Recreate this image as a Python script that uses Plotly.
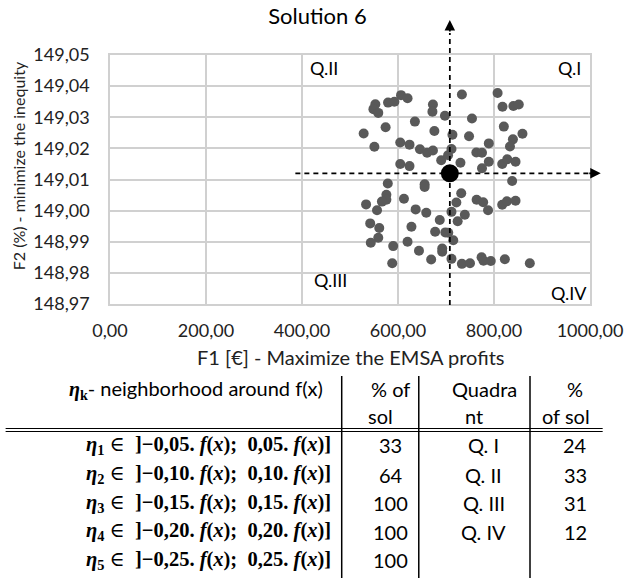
import plotly.graph_objects as go

# ---------------- data ----------------
f1 = [552.8, 548.8, 558.9, 579.3, 592.5, 606.3, 619.9, 672.8, 671.7, 697.8,
      635.2, 574.2, 528.5, 675.8, 550.8, 604.7, 624.0, 645.7, 660.6, 672.8,
      690.0, 604.7, 624.0, 713.4, 711.4, 704.3,
      733.1, 807.5, 817.7, 840.4, 851.6, 754.1, 820.5, 859.3, 748.0, 839.4,
      833.3, 789.2, 763.2, 775.0, 730.1, 789.2, 775.0, 817.1, 827.6, 844.9,
      578.7, 655.5, 655.5, 575.8, 575.8, 566.5, 533.5, 556.3, 612.4, 636.8,
      658.9, 687.0, 542.1, 561.0, 558.9, 628.0, 543.3, 590.0, 619.9, 677.4,
      698.6, 643.7, 692.1, 692.1, 669.1, 588.0,
      837.8, 731.7, 721.6, 763.8, 777.4, 787.6, 817.1, 827.0, 844.9, 711.4,
      739.2, 724.3, 704.7, 715.1, 711.4, 733.1, 750.0, 774.1, 778.1, 793.3,
      822.6, 874.6]
f2 = [149.0342, 149.0326, 149.0314, 149.0347, 149.0350, 149.0371, 149.0361, 149.0341, 149.0318, 149.0305,
      149.0286, 149.0268, 149.0248, 149.0256, 149.0205, 149.0219, 149.0212, 149.0197, 149.0186, 149.0193,
      149.0162, 149.0150, 149.0143, 149.0244, 149.0198, 149.0178,
      149.0373, 149.0378, 149.0334, 149.0336, 149.0341, 149.0296, 149.0270, 149.0247, 149.0239, 149.0229,
      149.0206, 149.0216, 149.0187, 149.0186, 149.0154, 149.0157, 149.0136, 149.0150, 149.0165, 149.0157,
      149.0087, 149.0085, 149.0076, 149.0051, 149.0035, 149.0029, 149.0020, 149.0001, 149.0038, 149.0004,
      148.9993, 148.9970, 148.9959, 148.9944, 148.9913, 148.9948, 148.9897, 148.9886, 148.9900, 148.9932,
      148.9930, 148.9871, 148.9878, 148.9868, 148.9843, 148.9831,
      149.0095, 149.0056, 149.0026, 149.0035, 149.0027, 149.0001, 149.0019, 149.0030, 149.0032, 148.9996,
      148.9987, 148.9966, 148.9929, 148.9905, 148.9845, 148.9829, 148.9831, 148.9850, 148.9839, 148.9838,
      148.9844, 148.9831]

center_f1 = 708.0
center_f2 = 149.012

x_ticks = [0, 200, 400, 600, 800, 1000]
x_ticktext = ["0,00", "200,00", "400,00", "600,00", "800,00", "1000,00"]
y_ticks = [148.97, 148.98, 148.99, 149.00, 149.01, 149.02, 149.03, 149.04, 149.05]
y_ticktext = ["148,97", "148,98", "148,99", "149,00", "149,01", "149,02", "149,03", "149,04", "149,05"]

quad_labels = ["Q.I", "Q.II", "Q.III", "Q.IV"]

eta_bounds = ["0,05", "0,10", "0,15", "0,20", "0,25"]
pct_of_sol = [33, 64, 100, 100, 100]
quadrants = ["Q. I", "Q. II", "Q. III", "Q. IV"]
quad_pct = [24, 33, 31, 12]

# ---------------- layout geometry ----------------
W, H = 635, 578
L, R, T, B = 110, 602, 55, 304


def px_x(px):
    return (px - L) / (R - L)


def px_y(py):
    return (B - py) / (B - T)


SANS = "Lato, 'Open Sans', sans-serif"
SERIF = "'Liberation Serif', 'DejaVu Serif', serif"
GRID = "#d0d0d0"

fig = go.Figure()
fig.add_trace(go.Scatter(x=f1, y=f2, mode="markers",
                         marker=dict(size=10, color="#595959"),
                         showlegend=False, hoverinfo="skip"))
fig.add_trace(go.Scatter(x=[center_f1], y=[center_f2], mode="markers",
                         marker=dict(size=18, color="#000000"),
                         showlegend=False, hoverinfo="skip"))

shapes = []
annotations = []

# dashed axes through the reference solution
shapes.append(dict(type="line", xref="x", yref="paper", x0=center_f1, x1=center_f1,
                   y0=px_y(305), y1=px_y(33), line=dict(color="black", width=1.75, dash="5px,4px")))
shapes.append(dict(type="line", xref="paper", yref="y", x0=px_x(300), x1=px_x(601),
                   y0=center_f2, y1=center_f2, line=dict(color="black", width=1.75, dash="5px,4px")))
annotations.append(dict(xref="x", yref="paper", x=center_f1, y=px_y(20), ax=0, ay=13,
                        showarrow=True, arrowhead=2, arrowsize=1.2, arrowwidth=1.75,
                        arrowcolor="black", text="", standoff=0))
annotations.append(dict(xref="paper", yref="y", x=px_x(613), y=center_f2, ax=-13, ay=0,
                        showarrow=True, arrowhead=2, arrowsize=1.2, arrowwidth=1.75,
                        arrowcolor="black", text="", standoff=0))

# quadrant labels
qfont = dict(family=SANS, size=18, color="black")
annotations += [
    dict(xref="x", yref="y", x=985, y=149.0458, text=quad_labels[0], showarrow=False,
         xanchor="right", yanchor="middle", font=qfont),
    dict(xref="x", yref="y", x=412, y=149.0458, text=quad_labels[1], showarrow=False,
         xanchor="left", yanchor="middle", font=qfont),
    dict(xref="x", yref="y", x=420, y=148.9777, text=quad_labels[2], showarrow=False,
         xanchor="left", yanchor="middle", font=qfont),
    dict(xref="x", yref="y", x=997, y=148.9735, text=quad_labels[3], showarrow=False,
         xanchor="right", yanchor="middle", font=qfont),
]

# axis titles
annotations.append(dict(xref="paper", yref="paper", x=px_x(16), y=px_y(166),
                        text="F2 (%) - minimize the inequity", textangle=-90, showarrow=False,
                        xanchor="center", yanchor="middle",
                        font=dict(family=SANS, size=16, color="#222")))
annotations.append(dict(xref="paper", yref="paper", x=px_x(356), y=px_y(357),
                        text="F1 [€] - Maximize the EMSA profits", showarrow=False,
                        xanchor="center", yanchor="middle",
                        font=dict(family=SANS, size=20, color="#222")))

# ---------------- table ----------------
tfont = dict(family=SANS, size=20, color="black")
mfont = dict(family=SERIF, size=20.5, color="black")
vlines = [347.5, 426.5, 540.5]
for vx in vlines:
    shapes.append(dict(type="line", xref="paper", yref="paper", x0=px_x(vx), x1=px_x(vx),
                       y0=px_y(376), y1=px_y(580), line=dict(color="black", width=1.5)))
for hy in [428.5, 431.5]:
    shapes.append(dict(type="line", xref="paper", yref="paper", x0=px_x(3), x1=px_x(615),
                       y0=px_y(hy), y1=px_y(hy), line=dict(color="black", width=1)))


def cell(px, py, text, font, xanchor="center"):
    annotations.append(dict(xref="paper", yref="paper", x=px_x(px), y=px_y(py), text=text,
                            showarrow=False, xanchor=xanchor, yanchor="middle", font=font))


cell(198, 389, "<span style=\"font-family:'Liberation Serif'\"><b><i>η</i><sub>k</sub></b></span>"
     "- neighborhood around f(x)", tfont)
cell(397, 389, "% of", tfont)
cell(387, 416, "sol", tfont)
cell(494, 389, "Quadra", tfont)
cell(483, 416, "nt", tfont)
cell(587, 389, "%", tfont)
cell(577, 416, "of sol", tfont)

row_y = [445, 474.5, 503, 531.5, 560]
for i, (b, p) in enumerate(zip(eta_bounds, pct_of_sol)):
    txt = ("<b><i>η</i><sub>%d</sub></b> ∈\u00a0 <b>]−%s.\u00a0<i>f</i>(<i>x</i>);\u00a0 %s.\u00a0<i>f</i>(<i>x</i>)]</b>"
           % (i + 1, b, b))
    cell(339, row_y[i], txt, mfont, xanchor="right")
    cell(398, row_y[i], str(p), tfont)
for i, (q, p) in enumerate(zip(quadrants, quad_pct)):
    cell(493, row_y[i], q, tfont)
    cell(587, row_y[i], str(p), tfont)

fig.update_layout(
    width=W, height=H,
    margin=dict(l=L, r=W - R, t=T, b=H - B, pad=0),
    paper_bgcolor="white", plot_bgcolor="white",
    title=dict(text="Solution 6", x=0.5, xanchor="center", y=1 - 16 / H, yanchor="middle",
               font=dict(family=SANS, size=22, color="black")),
    xaxis=dict(range=[0, 1000], tickvals=x_ticks, ticktext=x_ticktext,
               showgrid=True, gridcolor=GRID, gridwidth=1.5,
               showline=True, linecolor=GRID, linewidth=1.5, mirror=True,
               zeroline=False, ticks="", ticklabelstandoff=10, ticklabeloverflow="allow",
               tickfont=dict(family=SANS, size=18, color="#222")),
    yaxis=dict(range=[148.97, 149.05], tickvals=y_ticks, ticktext=y_ticktext,
               showgrid=True, gridcolor=GRID, gridwidth=1.5,
               showline=True, linecolor=GRID, linewidth=1.5, mirror=True,
               zeroline=False, ticks="", ticklabelstandoff=15,
               tickfont=dict(family=SANS, size=18, color="#222")),
    shapes=shapes, annotations=annotations,
)

fig.write_html("out.html", config={"displayModeBar": False},
               post_script="document.body.style.margin='0';")
